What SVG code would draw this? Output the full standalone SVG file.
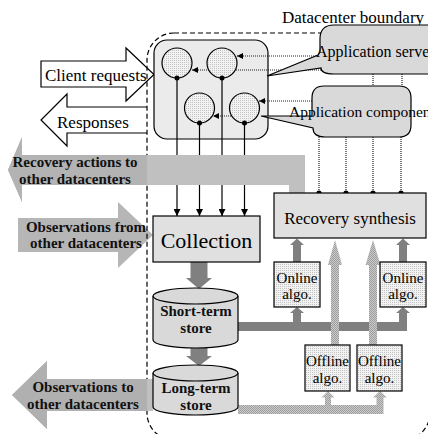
<svg xmlns="http://www.w3.org/2000/svg" width="428" height="434" viewBox="0 0 428 434" font-family="'Liberation Serif', 'Times New Roman', serif">
<defs>
<style>
.t{font-family:"Liberation Serif","Times New Roman",serif;fill:#000}
.b{font-family:"Liberation Serif","Times New Roman",serif;font-weight:bold;fill:#111;text-anchor:middle;font-size:15px}
.box{stroke:#000;stroke-width:1.2}
.dot{fill:none;stroke:#222;stroke-width:1.2;stroke-dasharray:1 1}
.ln{fill:none;stroke:#000;stroke-width:1.2}
.gray{fill:#808080}
</style>
<pattern id="dots" width="2" height="2" patternUnits="userSpaceOnUse"><rect width="2" height="2" fill="#f2f2f2"/><rect width="1" height="1" fill="#c4c4c4"/></pattern>
<pattern id="hatch" width="2" height="2" patternUnits="userSpaceOnUse"><rect width="2" height="2" fill="#cccccc"/><rect width="1" height="1" fill="#9c9c9c"/><rect x="1" y="1" width="1" height="1" fill="#9c9c9c"/></pattern>
<marker id="ah" viewBox="0 0 8 8" refX="8" refY="4" markerWidth="7" markerHeight="7" markerUnits="userSpaceOnUse" orient="auto"><path d="M0,0 L8,4 L0,8 Z" fill="#000"/></marker>
<marker id="ahs" viewBox="0 0 8 8" refX="8" refY="4" markerWidth="6" markerHeight="6" markerUnits="userSpaceOnUse" orient="auto"><path d="M0,0 L8,4 L0,8 Z" fill="#000"/></marker>
</defs>
<rect width="428" height="434" fill="#fff"/>

<g id="client-requests">
<polygon points="41,61 126,61 126,48 154,74.5 126,101 126,87 41,87" fill="#fff" class="box"/>
<text class="t" x="45" y="81" font-size="17">Client requests</text>
</g>
<g id="responses">
<path d="M147,107 H67 V94 L41,120 L67,146 V133 H147" fill="#fff" class="box"/>
<text class="t" x="57" y="128" font-size="17">Responses</text>
</g>
<g id="obs-from">
<polygon points="18,218 118,218 118,202 153,235 118,268 118,252 18,252" fill="#b6b6b6"/>
</g>

<g id="boundary">
<rect x="147" y="33" width="283" height="407" rx="27" fill="none" stroke="#000" stroke-width="1.2" stroke-dasharray="5 3"/>
<text class="t" x="282" y="23" font-size="17">Datacenter boundary</text>
</g>

<g id="obs-from-label">
<text class="b" x="86" y="232">Observations from</text>
<text class="b" x="86" y="248">other datacenters</text>
</g>

<g id="components">
<rect x="154" y="40" width="114" height="99" rx="13" fill="#ebebeb" class="box"/>
</g>

<g id="connectors">
<line class="dot" x1="321" y1="70" x2="192" y2="70" marker-end="url(#ahs)"/>
<line class="dot" x1="320" y1="56" x2="237" y2="56" marker-end="url(#ahs)"/>
<line class="dot" x1="312" y1="101" x2="259" y2="101" marker-end="url(#ahs)"/>
<line class="dot" x1="231" y1="116" x2="213" y2="116" marker-end="url(#ahs)"/>
<line class="ln" x1="177" y1="78" x2="177" y2="216" marker-end="url(#ah)"/>
<line class="ln" x1="222" y1="78" x2="222" y2="216" marker-end="url(#ah)"/>
<line class="ln" x1="199.5" y1="123" x2="199.5" y2="216" marker-end="url(#ah)"/>
<line class="ln" x1="244.5" y1="123" x2="244.5" y2="216" marker-end="url(#ah)"/>
<line class="dot" x1="373" y1="74" x2="373" y2="86"/>
<line class="dot" x1="402" y1="74" x2="402" y2="86"/>
<line class="dot" x1="319" y1="137" x2="319" y2="193"/>
<line class="dot" x1="346" y1="137" x2="346" y2="193"/>
<line class="dot" x1="373" y1="137" x2="373" y2="193"/>
<line class="dot" x1="401" y1="137" x2="401" y2="193"/>
<circle cx="319" cy="193" r="2.6"/>
<circle cx="346" cy="193" r="2.6"/>
<circle cx="373" cy="193" r="2.6"/>
<circle cx="401" cy="193" r="2.6"/>
<path class="gray" d="M190.5,262 V278 H186 L199,289 L212,278 H207.5 V262 Z"/>
<path class="gray" d="M190.5,347 V356 H186 L199,366 L212,356 H207.5 V347 Z"/>
<path class="gray" d="M238,322 H293 V313 H290 L297,307 L304,313 H301 V322 H399 V313 H396 L403,307 L410,313 H407 V331 H238 Z"/>
<path class="gray" d="M293,262 V245 H290 L297,238.5 L304,245 H301 V262 Z"/>
<path class="gray" d="M399,262 V245 H396 L403,238.5 L410,245 H407 V262 Z"/>
<path fill="url(#hatch)" d="M331,345 V265 H328 L335,240 L342,265 H339 V345 Z"/>
<path fill="url(#hatch)" d="M369,345 V265 H365.5 L373,240 L380.5,265 H377 V345 Z"/>
<path fill="url(#hatch)" d="M238,405 H325 V397.5 H321.5 L328,391 L334.5,397.5 H331 V405 H376.5 V397.5 H373 L380,391 L387,397.5 H383.5 V414 H238 Z"/>
</g>

<g id="circle-1"><circle cx="177" cy="63" r="15" fill="url(#dots)" class="box"/><circle cx="177" cy="78" r="2.5"/></g>
<g id="circle-2"><circle cx="222" cy="63" r="15" fill="url(#dots)" class="box"/><circle cx="222" cy="78" r="2.5"/></g>
<g id="circle-3"><circle cx="199.5" cy="108" r="15" fill="url(#dots)" class="box"/><circle cx="199.5" cy="123" r="2.5"/></g>
<g id="circle-4"><circle cx="244.5" cy="108" r="15" fill="url(#dots)" class="box"/><circle cx="244.5" cy="123" r="2.5"/></g>

<g id="application-server">
<path d="M334,25 H445 V74 H334 Q321,74 321,68 L267,76 L318,55 L320,52 V39 Q320,25 334,25 Z" fill="#d9d9d9" class="box"/>
<text class="t" x="316" y="57" font-size="16">Application server</text>
</g>
<g id="application-component">
<path d="M324,86 H399 Q411,86 411,98 V125 Q411,137 399,137 H325 Q313,137 313,128 L261,116 L312,116 V98 Q312,86 324,86 Z" fill="#d9d9d9" class="box"/>
<text class="t" x="289" y="117" font-size="15.5">Application component</text>
</g>

<g id="recovery-actions">
<polygon points="8,170 22,137 22,155 305,155 305,193 289,193 289,185 22,185 22,202" fill="#c0c0c0"/>
<polygon points="8,170 22,137 22,155 147,155 147,185 22,185 22,202" fill="#b3b3b3"/>
<text class="b" x="75" y="167">Recovery actions to</text>
<text class="b" x="75" y="184">other datacenters</text>
</g>

<g id="obs-to">
<polygon points="12,395 47,361 47,379 153,379 153,411 47,411 47,429" fill="#c0c0c0"/>
<polygon points="12,395 47,361 47,379 147,379 147,411 47,411 47,429" fill="#b0b0b0"/>
<text class="b" x="83" y="392">Observations to</text>
<text class="b" x="83" y="409">other datacenters</text>
</g>

<g id="collection">
<rect x="153" y="216" width="107" height="46" fill="#e0e0e0" class="box"/>
<text class="t" x="206.5" y="248" font-size="22" text-anchor="middle">Collection</text>
</g>

<g id="short-term-store">
<path d="M153,296 V340 A42.5,8 0 0 0 238,340 V296" fill="#d9d9d9" class="box"/>
<ellipse cx="195.5" cy="296" rx="42.5" ry="8" fill="#d9d9d9" class="box"/>
<text class="b" x="196" y="316">Short-term</text>
<text class="b" x="196" y="333">store</text>
</g>
<g id="long-term-store">
<path d="M153,373 V407 A42.5,8 0 0 0 238,407 V373" fill="#d9d9d9" class="box"/>
<ellipse cx="195.5" cy="373" rx="42.5" ry="8" fill="#d9d9d9" class="box"/>
<text class="b" x="196" y="393">Long-term</text>
<text class="b" x="196" y="410">store</text>
</g>

<g id="recovery-synthesis">
<rect x="274" y="193" width="152" height="45" fill="#e0e0e0" class="box"/>
<text class="t" x="350" y="224" font-size="17" text-anchor="middle">Recovery synthesis</text>
</g>
<g id="online-1">
<rect x="274" y="262" width="46" height="45" fill="url(#dots)" class="box"/>
<text class="t" x="297" y="283" font-size="15" text-anchor="middle">Online</text>
<text class="t" x="297" y="299" font-size="15" text-anchor="middle">algo.</text>
</g>
<g id="online-2">
<rect x="380" y="262" width="46" height="45" fill="url(#dots)" class="box"/>
<text class="t" x="403" y="283" font-size="15" text-anchor="middle">Online</text>
<text class="t" x="403" y="299" font-size="15" text-anchor="middle">algo.</text>
</g>
<g id="offline-1">
<rect x="305" y="345" width="45" height="46" fill="url(#dots)" class="box"/>
<text class="t" x="327.5" y="366" font-size="15" text-anchor="middle">Offline</text>
<text class="t" x="327.5" y="383" font-size="15" text-anchor="middle">algo.</text>
</g>
<g id="offline-2">
<rect x="357" y="345" width="45" height="46" fill="url(#dots)" class="box"/>
<text class="t" x="379.5" y="366" font-size="15" text-anchor="middle">Offline</text>
<text class="t" x="379.5" y="383" font-size="15" text-anchor="middle">algo.</text>
</g>
</svg>
